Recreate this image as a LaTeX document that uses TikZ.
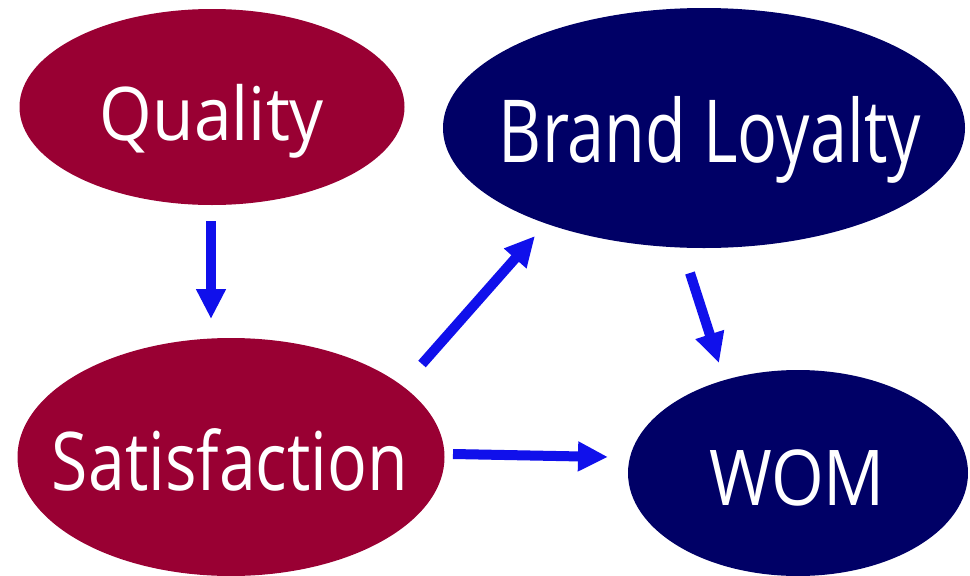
\documentclass[tikz,border=0pt]{standalone}
\usepackage{fontspec}
\setmainfont{Open Sans}
\usetikzlibrary{arrows.meta,shapes.geometric}
\definecolor{qred}{RGB}{153,0,51}
\definecolor{qnavy}{RGB}{0,0,102}
\definecolor{qblue}{RGB}{16,16,235}
\tikzset{
  bubble/.style={ellipse, inner sep=0pt, draw=none},
  redbubble/.style={bubble, fill=qred},
  navybubble/.style={bubble, fill=qnavy},
  label text/.style={text=white, anchor=base, inner sep=0pt},
  arr/.style={draw=qblue, line width=10pt, -{Triangle[length=30pt,width=28pt]}}
}
\begin{document}
\begin{tikzpicture}[x=1pt,y=-1pt]
\useasboundingbox (0,0) rectangle (970,576);
\node[redbubble, minimum width=385pt, minimum height=196pt] (Q) at (212,107) {};
\node[navybubble, minimum width=522pt, minimum height=240pt] (BL) at (704,128) {};
\node[redbubble, minimum width=427pt, minimum height=238pt] (S) at (231,457) {};
\node[navybubble, minimum width=340pt, minimum height=206pt] (W) at (798,473) {};
\node[label text, font=\fontsize{74}{80}\selectfont] (Qt) at (212,140) {\resizebox{224pt}{\height}{Quality}};
\node[label text, font=\fontsize{87}{94}\selectfont] (BLt) at (710,162) {\resizebox{422pt}{\height}{Brand Loyalty}};
\node[label text, font=\fontsize{81}{88}\selectfont] (St) at (230,490) {\resizebox{356pt}{\height}{Satisfaction}};
\node[label text, font=\fontsize{77}{84}\selectfont] (Wt) at (797,505) {\resizebox{176pt}{\height}{WOM}};
\draw[arr] ([shift={(-1,114)}]Q.center) -- ([shift={(-20,-138)}]S.center);
\draw[arr] ([shift={(191,-93)}]S.center) -- ([shift={(-169,108)}]BL.center);
\draw[arr] ([shift={(-14,145)}]BL.center) -- ([shift={(-79,-110)}]W.center);
\draw[arr] ([shift={(222,-3)}]S.center) -- ([shift={(-190,-16)}]W.center);
\end{tikzpicture}
\end{document}
